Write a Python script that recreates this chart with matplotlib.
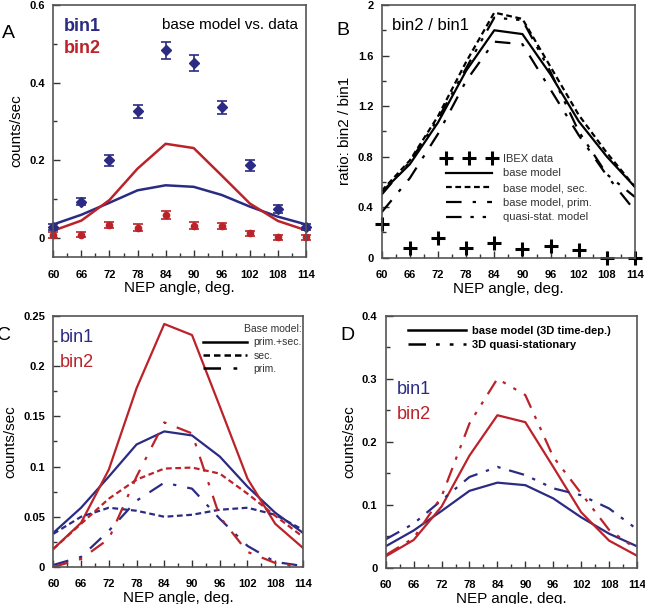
import matplotlib.pyplot as plt
import numpy as np
from matplotlib.ticker import MultipleLocator, FormatStrFormatter

plt.rcParams['font.family'] = ['Liberation Sans', 'DejaVu Sans']

BLUE = "#2b2b83"
RED = "#bb2229"

angle = [60, 66, 72, 78, 84, 90, 96, 102, 108, 114]

# IBEX data (panel A)
bin1_data = [0.028, 0.093, 0.200, 0.326, 0.483, 0.451, 0.336, 0.187, 0.074, 0.028]
bin1_err = [0.008, 0.010, 0.014, 0.017, 0.022, 0.020, 0.017, 0.014, 0.010, 0.008]
bin2_data = [0.007, 0.008, 0.032, 0.026, 0.058, 0.031, 0.030, 0.011, 0.001, 0.001]
bin2_err = [0.008, 0.007, 0.008, 0.009, 0.011, 0.010, 0.008, 0.007, 0.006, 0.006]

# base model, prim.+sec.
bin1_base = [0.034, 0.059, 0.090, 0.122, 0.135, 0.131, 0.110, 0.080, 0.054, 0.034]
bin2_base = [0.018, 0.044, 0.097, 0.178, 0.242, 0.231, 0.160, 0.088, 0.043, 0.019]
# base model, sec. only
bin1_sec = [0.033, 0.050, 0.059, 0.056, 0.050, 0.052, 0.057, 0.059, 0.052, 0.037]
bin2_sec = [0.018, 0.043, 0.068, 0.087, 0.098, 0.099, 0.093, 0.073, 0.051, 0.030]
# base model, prim. only
bin1_prim = [0.002, 0.010, 0.036, 0.066, 0.084, 0.078, 0.048, 0.021, 0.005, 0.001]
bin2_prim = [0.000, 0.008, 0.028, 0.090, 0.144, 0.133, 0.050, 0.015, 0.004, 0.000]
# 3D quasi-stationary model
bin1_quasi = [0.045, 0.070, 0.107, 0.144, 0.160, 0.147, 0.126, 0.115, 0.094, 0.061]
bin2_quasi = [0.020, 0.047, 0.113, 0.229, 0.300, 0.274, 0.176, 0.118, 0.060, 0.029]

# ratios bin2 / bin1 (panel B)
ratio_ibex = [0.27, 0.08, 0.16, 0.08, 0.12, 0.07, 0.09, 0.06, 0.00, 0.00]
ratio_base = [0.52, 0.74, 1.07, 1.48, 1.80, 1.77, 1.45, 1.08, 0.80, 0.56]
ratio_sec = [0.53, 0.77, 1.12, 1.55, 1.94, 1.89, 1.51, 1.13, 0.83, 0.56]
ratio_prim = [0.36, 0.63, 0.98, 1.40, 1.71, 1.69, 1.33, 0.97, 0.65, 0.37]
ratio_quasi = [0.50, 0.76, 1.10, 1.50, 1.90, 1.88, 1.47, 1.00, 0.66, 0.48]

xticks = [60, 66, 72, 78, 84, 90, 96, 102, 108, 114]

SEC = (0, (2.6, 1.6))
PRIM = (0, (7, 5, 1.5, 5))
QUASI = (0, (7, 4, 1.5, 4, 1.5, 4))


def style(ax, ymin, ymax, major, minor):
    ax.set_xlim(60, 114)
    ax.set_ylim(ymin, ymax)
    ax.set_xticks(xticks)
    ax.xaxis.set_minor_locator(MultipleLocator(3))
    ax.yaxis.set_major_locator(MultipleLocator(major))
    ax.yaxis.set_minor_locator(MultipleLocator(minor))
    ax.yaxis.set_major_formatter(FormatStrFormatter('%g'))
    ax.tick_params(which='both', direction='in', top=False, right=False,
                   colors='#333333', labelcolor='black')
    ax.tick_params(which='major', length=5, width=1)
    ax.tick_params(which='minor', length=3, width=1)
    ax.tick_params(axis='x', pad=9)
    ax.tick_params(axis='y', pad=6)
    ax.set_xticklabels([str(t) for t in xticks], fontweight='bold', fontsize=8)
    yt = [t for t in ax.get_yticks() if ymin - 1e-9 <= t <= ymax + 1e-9]
    ax.set_yticks(yt)
    ax.set_yticklabels(["%g" % round(t, 3) for t in yt], fontweight='bold', fontsize=8)
    for sp in ax.spines.values():
        sp.set_color('#555555')
        sp.set_linewidth(1.2)
    ax.set_xlabel("NEP angle, deg.", fontsize=11, labelpad=1)


fig = plt.figure(figsize=(6.45, 6.04), dpi=100)
axA = fig.add_axes([0.0827, 0.5745, 0.3917, 0.4172])
axB = fig.add_axes([0.5918, 0.5733, 0.3927, 0.4184])
axC = fig.add_axes([0.0827, 0.0613, 0.3870, 0.4156])
axD = fig.add_axes([0.5980, 0.0601, 0.3896, 0.4172])

# ---- A ----
axA.plot(angle, bin1_base, color=BLUE, lw=1.8)
axA.plot(angle, bin2_base, color=RED, lw=1.8)
axA.errorbar(angle, bin1_data, yerr=bin1_err, fmt='D', color=BLUE, ms=5,
             capsize=3.5, elinewidth=1.2, capthick=1.2, clip_on=False)
axA.errorbar(angle, bin2_data, yerr=bin2_err, fmt='o', color=RED, ms=4.5,
             capsize=3.5, elinewidth=1.2, capthick=1.2, clip_on=False)
style(axA, -0.05, 0.6, 0.2, 0.1)
axA.set_ylabel("counts/sec", fontsize=11, labelpad=4)
axA.text(0.04, 0.95, "bin1", transform=axA.transAxes, color=BLUE,
         fontsize=13, fontweight='bold', va='top')
axA.text(0.04, 0.86, "bin2", transform=axA.transAxes, color=RED,
         fontsize=13, fontweight='bold', va='top')
axA.text(0.97, 0.95, "base model vs. data", transform=axA.transAxes,
         fontsize=11, ha='right', va='top')
fig.text(0.003, 0.945, "A", fontsize=14, va='center')

# ---- B ----
lb, = axB.plot(angle, ratio_base, color='black', lw=1.6)
ls, = axB.plot(angle, ratio_sec, color='black', lw=1.6, ls=SEC)
lp, = axB.plot(angle, ratio_prim, color='black', lw=1.6, ls=PRIM)
lq, = axB.plot(angle, ratio_quasi, color='black', lw=1.6, ls=QUASI)
li, = axB.plot(angle, ratio_ibex, '+', color='black', ms=10, mew=2.2, ls='none',
               clip_on=False)
style(axB, 0, 2, 0.4, 0.2)
axB.set_ylabel("ratio: bin2 / bin1", fontsize=11, labelpad=4)
axB.text(0.04, 0.95, "bin2 / bin1", transform=axB.transAxes, fontsize=12, va='top')
axB.legend([li, lb, ls, lp, lq],
           ["IBEX data", "base model", "base model, sec.", "base model, prim.", "quasi-stat. model"],
           loc='lower left', bbox_to_anchor=(0.2, 0.1), frameon=False, fontsize=8,
           handlelength=4.8, numpoints=3, labelspacing=0.42, handletextpad=0.7,
           labelcolor='#333333')
fig.text(0.522, 0.95, "B", fontsize=14, va='center')

# ---- C ----
axC.plot(angle, bin1_base, color=BLUE, lw=1.6)
axC.plot(angle, bin2_base, color=RED, lw=1.6)
axC.plot(angle, bin1_sec, color=BLUE, lw=1.6, ls=SEC)
axC.plot(angle, bin2_sec, color=RED, lw=1.6, ls=SEC)
axC.plot(angle, bin1_prim, color=BLUE, lw=1.6, ls=PRIM)
axC.plot(angle, bin2_prim, color=RED, lw=1.6, ls=PRIM)
style(axC, 0, 0.25, 0.05, 0.025)
axC.set_ylabel("counts/sec", fontsize=11, labelpad=4)
axC.text(0.025, 0.95, "bin1", transform=axC.transAxes, color=BLUE, fontsize=13, va='top')
axC.text(0.025, 0.85, "bin2", transform=axC.transAxes, color=RED, fontsize=13, va='top')
hc = [plt.Line2D([], [], color='black', lw=1.8),
      plt.Line2D([], [], color='black', lw=1.8, ls=SEC),
      plt.Line2D([], [], color='black', lw=1.8, ls=PRIM)]
legC = axC.legend(hc, ["prim.+sec.", "sec.", "prim."], title="Base model:",
                  loc='upper right', bbox_to_anchor=(1.03, 1.0), frameon=False,
                  fontsize=7.5, title_fontsize=7.5, handlelength=4.3,
                  labelspacing=0.3, handletextpad=0.6, borderpad=0.3,
                  labelcolor='#333333', alignment='right')
legC.get_title().set_color('#333333')
fig.text(-0.004, 0.445, "C", fontsize=14, va='center')

# ---- D ----
axD.plot(angle, bin1_base, color=BLUE, lw=1.6)
axD.plot(angle, bin2_base, color=RED, lw=1.6)
axD.plot(angle, bin1_quasi, color=BLUE, lw=1.6, ls=QUASI)
axD.plot(angle, bin2_quasi, color=RED, lw=1.6, ls=QUASI)
style(axD, 0, 0.4, 0.1, 0.05)
axD.set_ylabel("counts/sec", fontsize=11, labelpad=4)
axD.text(0.045, 0.74, "bin1", transform=axD.transAxes, color=BLUE, fontsize=13, va='top')
axD.text(0.045, 0.64, "bin2", transform=axD.transAxes, color=RED, fontsize=13, va='top')
hd = [plt.Line2D([], [], color='black', lw=1.8),
      plt.Line2D([], [], color='black', lw=1.8, ls=QUASI)]
axD.legend(hd, ["base model (3D time-dep.)", "3D quasi-stationary"],
           loc='upper left', bbox_to_anchor=(0.05, 1.0), frameon=False,
           handlelength=5.2, labelspacing=0.35, handletextpad=0.5,
           prop={'weight': 'bold', 'size': 8})
fig.text(0.527, 0.445, "D", fontsize=14, va='center')

fig.savefig("out.png", dpi=100)
